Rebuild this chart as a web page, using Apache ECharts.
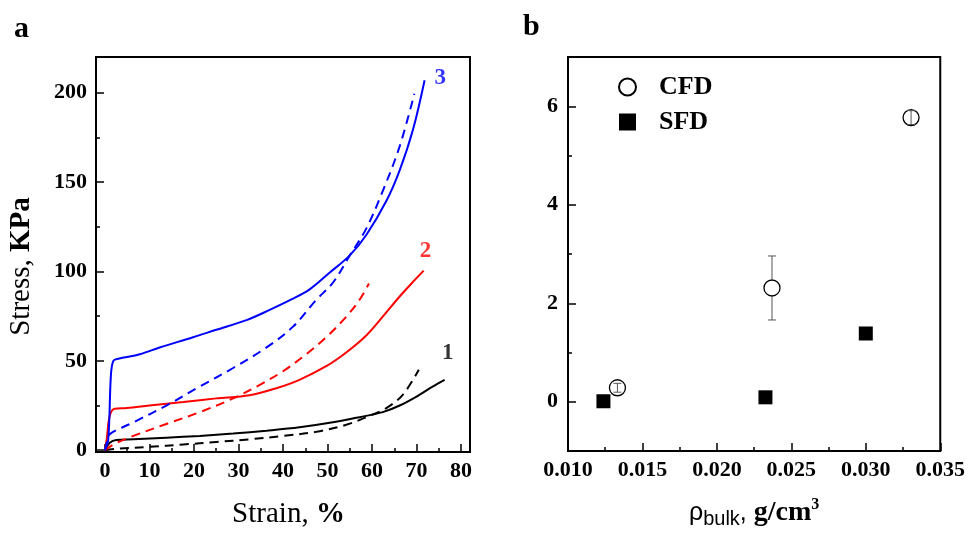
<!DOCTYPE html>
<html>
<head>
<meta charset="utf-8">
<script src="https://cdn.jsdelivr.net/npm/echarts@6/dist/echarts.min.js"></script>
<style>html,body{margin:0;padding:0;background:#fff;}#c{width:968px;height:534px;}</style>
</head>
<body>
<div id="c"></div>
<script>
// ---- Panel a: stress-strain curves [strain %, stress KPa] ----
const blueSolid = [[0,0],[0.75,6],[1.35,42],[1.9,50],[3,51.2],[7.85,53.7],[12.3,57.5],[19.8,63.2],[25,67.4],[31.8,72.8],[37,78.5],[42,84.5],[46,90],[50.5,99.4],[55,109],[58.7,120.4],[63.2,139.4],[66.2,156.6],[69.2,179.4],[71.8,207]];
const blueDashed = [[0,0],[0.5,5],[1.1,9],[6.4,15.6],[13.8,25],[21.3,35.6],[28.8,46],[36.3,57.5],[42.2,69],[47.5,84.2],[51.2,93.7],[55,109],[58.7,124],[62.4,145],[66.2,170],[69.5,199.4]];
const redSolid = [[0,0],[0.4,6],[1.1,19.4],[2.2,23.2],[4.9,23.6],[10,25],[17.6,27],[25,29],[32.5,30.8],[38.5,34.7],[43.7,39.4],[49.7,47],[54.2,54.7],[58.7,64.2],[62.4,74.7],[66.2,86],[69.5,95],[71.6,100.5]];
const redDashed = [[0,0],[1.9,3.2],[6.4,8],[13.8,14.7],[21.3,21.3],[28.8,29],[34.8,36.6],[40,44.2],[45.2,53.7],[49.7,63.2],[54.2,74.7],[57.2,84.2],[59.3,93.3]];
const blackSolid = [[0,0],[1.1,4.2],[2.6,5.7],[6.4,6.1],[13.8,7],[21.3,8],[28.8,9.3],[36.3,10.9],[43.7,12.8],[51.2,15.6],[57.2,18.5],[62.4,21.3],[66.2,25],[70.6,30.9],[73.6,35.6],[76.3,39.4]];
const blackDashed = [[0,0],[2.6,0.8],[10,1.9],[17.6,3.2],[25,4.6],[32.5,6.1],[40,8],[47.5,10.3],[54.2,14.2],[58.7,18.5],[63.2,23.6],[66.9,31],[70.5,45]];
const curveLabels = [[75.3,208.4,'3','#0000ff'],[72,111.2,'2','#ff0000'],[77,54.1,'1','#000000']];
const strainTicks = [0,10,20,30,40,50,60,70,80];
const strainMinor = [5,15,25,35,45,55,65,75];
const stressTicks = [0,50,100,150,200];
const stressMinor = [25,75,125,175];

// ---- Panel b: density data ----
const cfdX = [0.01332, 0.02370, 0.03304];
const cfdY = [0.284, 2.31, 5.77];
const cfdErr = [0.09, 0.65, 0.14];
const sfdX = [0.01238, 0.02326, 0.0300];
const sfdY = [0.01, 0.09, 1.386];
const rhoTicks = [0.010,0.015,0.020,0.025,0.030,0.035];
const rhoMinor = [0.0125,0.0175,0.0225,0.0275,0.0325];
const bTicks = [0,2,4,6];
const bMinor = [1,3,5];

const SERIF = 'Liberation Serif';
const lbl = {fontFamily: SERIF, fontWeight: 'bold', fontSize: 22, color: '#000'};

function mainAxis(grid, pos, min, max, ticks, fmt, margin, extra) {
  return Object.assign({
    type: 'value', gridIndex: grid, position: pos, min: min, max: max,
    axisLine: {show: true, onZero: false, lineStyle: {color: '#000', width: 2}},
    axisTick: {show: true, inside: true, length: 8, customValues: ticks, lineStyle: {color: '#000', width: 1.5}},
    axisLabel: Object.assign({show: true, customValues: ticks, margin: margin, formatter: fmt}, lbl),
    splitLine: {show: false}
  }, extra || {});
}
function minorAxis(grid, pos, min, max, ticks) {
  return {
    type: 'value', gridIndex: grid, position: pos, min: min, max: max,
    axisLine: {show: false, onZero: false},
    axisTick: {show: true, inside: true, length: 4, customValues: ticks, lineStyle: {color: '#000', width: 1.5}},
    axisLabel: {show: false},
    splitLine: {show: false}
  };
}

const chart = echarts.init(document.getElementById('c'), null, {renderer: 'canvas'});
function line(data, color, dashed) {
  return {
    type: 'line', xAxisIndex: 0, yAxisIndex: 0, data: data, showSymbol: false, symbol: 'none',
    smooth: 0.35, z: 3,
    lineStyle: {color: color, width: 2, type: dashed ? [9, 6] : 'solid'}
  };
}

const option = {
  animation: false,
  backgroundColor: '#fff',
  title: [
    {text: 'a', left: 14, top: 14, padding: 0, textStyle: {fontFamily: SERIF, fontWeight: 'bold', fontSize: 30, color: '#000'}},
    {text: 'b', left: 523, top: 12, padding: 0, textStyle: {fontFamily: SERIF, fontWeight: 'bold', fontSize: 30, color: '#000'}}
  ],
  grid: [
    {left: 96, top: 57, width: 374, height: 395, show: true, borderColor: '#000', borderWidth: 2, backgroundColor: 'transparent'},
    {left: 568, top: 57, width: 373, height: 394, show: true, borderColor: '#000', borderWidth: 2, backgroundColor: 'transparent'}
  ],
  legend: {
    data: ['CFD', 'SFD'], orient: 'vertical', left: 613, top: 69, itemWidth: 17, itemHeight: 17, itemGap: 9,
    selectedMode: false,
    textStyle: {fontFamily: SERIF, fontWeight: 'bold', fontSize: 26, lineHeight: 26, color: '#000', padding: [0, 0, 0, 18]}
  },
  xAxis: [
    mainAxis(0, 'bottom', -2, 82, strainTicks, v => String(v), 8, {
      name: '{r|Strain, }{b|%}', nameLocation: 'middle', nameGap: 48,
      nameTextStyle: {padding: [0, 0, 0, 11], rich: {
        r: {fontFamily: SERIF, fontSize: 29, color: '#000'},
        b: {fontFamily: SERIF, fontSize: 29, fontWeight: 'bold', color: '#000'}
      }}
    }),
    minorAxis(0, 'bottom', -2, 82, strainMinor),
    mainAxis(1, 'bottom', 0.010, 0.035, rhoTicks, v => v.toFixed(3), 8, {
      name: '{r|ρ}{s|bulk}{r|, }{b|g/cm}{p|3}', nameLocation: 'middle', nameGap: 46,
      nameTextStyle: {rich: {
        r: {fontFamily: 'Liberation Sans', fontSize: 25, lineHeight: 32, verticalAlign: 'middle', color: '#000'},
        s: {fontFamily: 'Liberation Sans', fontSize: 20, lineHeight: 19, verticalAlign: 'bottom', color: '#000'},
        b: {fontFamily: SERIF, fontSize: 28, fontWeight: 'bold', lineHeight: 32, verticalAlign: 'middle', color: '#000'},
        p: {fontFamily: SERIF, fontSize: 16, fontWeight: 'bold', lineHeight: 15, verticalAlign: 'top', color: '#000'}
      }}
    }),
    minorAxis(1, 'bottom', 0.010, 0.035, rhoMinor)
  ],
  yAxis: [
    mainAxis(0, 'left', -1, 220, stressTicks, v => String(v), 9, {
      name: '{r|Stress, }{b|KPa}', nameLocation: 'middle', nameGap: 60, nameRotate: 90,
      nameTextStyle: {padding: [0, 24, 0, 0], rich: {
        r: {fontFamily: SERIF, fontSize: 29, color: '#000'},
        b: {fontFamily: SERIF, fontSize: 29, fontWeight: 'bold', color: '#000'}
      }}
    }),
    minorAxis(0, 'left', -1, 220, stressMinor),
    mainAxis(1, 'left', -1, 7, bTicks, v => String(v), 10),
    minorAxis(1, 'left', -1, 7, bMinor)
  ],
  series: [
    line(blackDashed, '#000000', true),
    line(blackSolid, '#000000', false),
    line(redDashed, '#ff0000', true),
    line(redSolid, '#ff0000', false),
    line(blueDashed, '#0000ff', true),
    line(blueSolid, '#0000ff', false),
    {
      type: 'scatter', xAxisIndex: 0, yAxisIndex: 0, symbolSize: 0, silent: true, z: 5,
      data: curveLabels.map(d => ({value: [d[0], d[1]], name: d[2],
        label: {show: true, position: 'inside', formatter: d[2], color: d[3], textBorderWidth: 0, textShadowBlur: 0,
          fontFamily: SERIF, fontWeight: 'bold', fontSize: 23}}))
    },
    {
      name: 'CFD', type: 'scatter', xAxisIndex: 2, yAxisIndex: 2, symbol: 'circle', symbolSize: 16, z: 2,
      itemStyle: {color: '#ffffff', borderColor: '#000', borderWidth: 1.3, opacity: 1},
      data: cfdX.map((x, i) => [x, cfdY[i]])
    },
    {
      name: 'SFD', type: 'scatter', xAxisIndex: 2, yAxisIndex: 2, symbol: 'rect', symbolSize: 14, z: 2,
      itemStyle: {color: '#000000', opacity: 1},
      data: sfdX.map((x, i) => [x, sfdY[i]])
    },
    {
      type: 'custom', xAxisIndex: 2, yAxisIndex: 2, z: 4, silent: true,
      data: cfdX.map((x, i) => [x, cfdY[i], cfdErr[i]]),
      renderItem: function (params, api) {
        const x = api.value(0), y = api.value(1), e = api.value(2);
        const p = api.coord([x, y]);
        const t = api.coord([x, y + e]);
        const b = api.coord([x, y - e]);
        const r = 8, cw = 4;
        const st = {stroke: '#555', lineWidth: 1};
        const ch = [];
        if ((b[1] - t[1]) / 2 > r) {
          ch.push({type: 'line', shape: {x1: p[0], y1: t[1], x2: p[0], y2: p[1] - r}, style: st});
          ch.push({type: 'line', shape: {x1: p[0], y1: p[1] + r, x2: p[0], y2: b[1]}, style: st});
        } else {
          ch.push({type: 'line', shape: {x1: p[0], y1: t[1], x2: p[0], y2: b[1]}, style: st});
        }
        ch.push({type: 'line', shape: {x1: p[0] - cw, y1: t[1], x2: p[0] + cw, y2: t[1]}, style: st});
        ch.push({type: 'line', shape: {x1: p[0] - cw, y1: b[1], x2: p[0] + cw, y2: b[1]}, style: st});
        return {type: 'group', children: ch};
      }
    }
  ]
};
chart.setOption(option);
</script>
</body>
</html>
